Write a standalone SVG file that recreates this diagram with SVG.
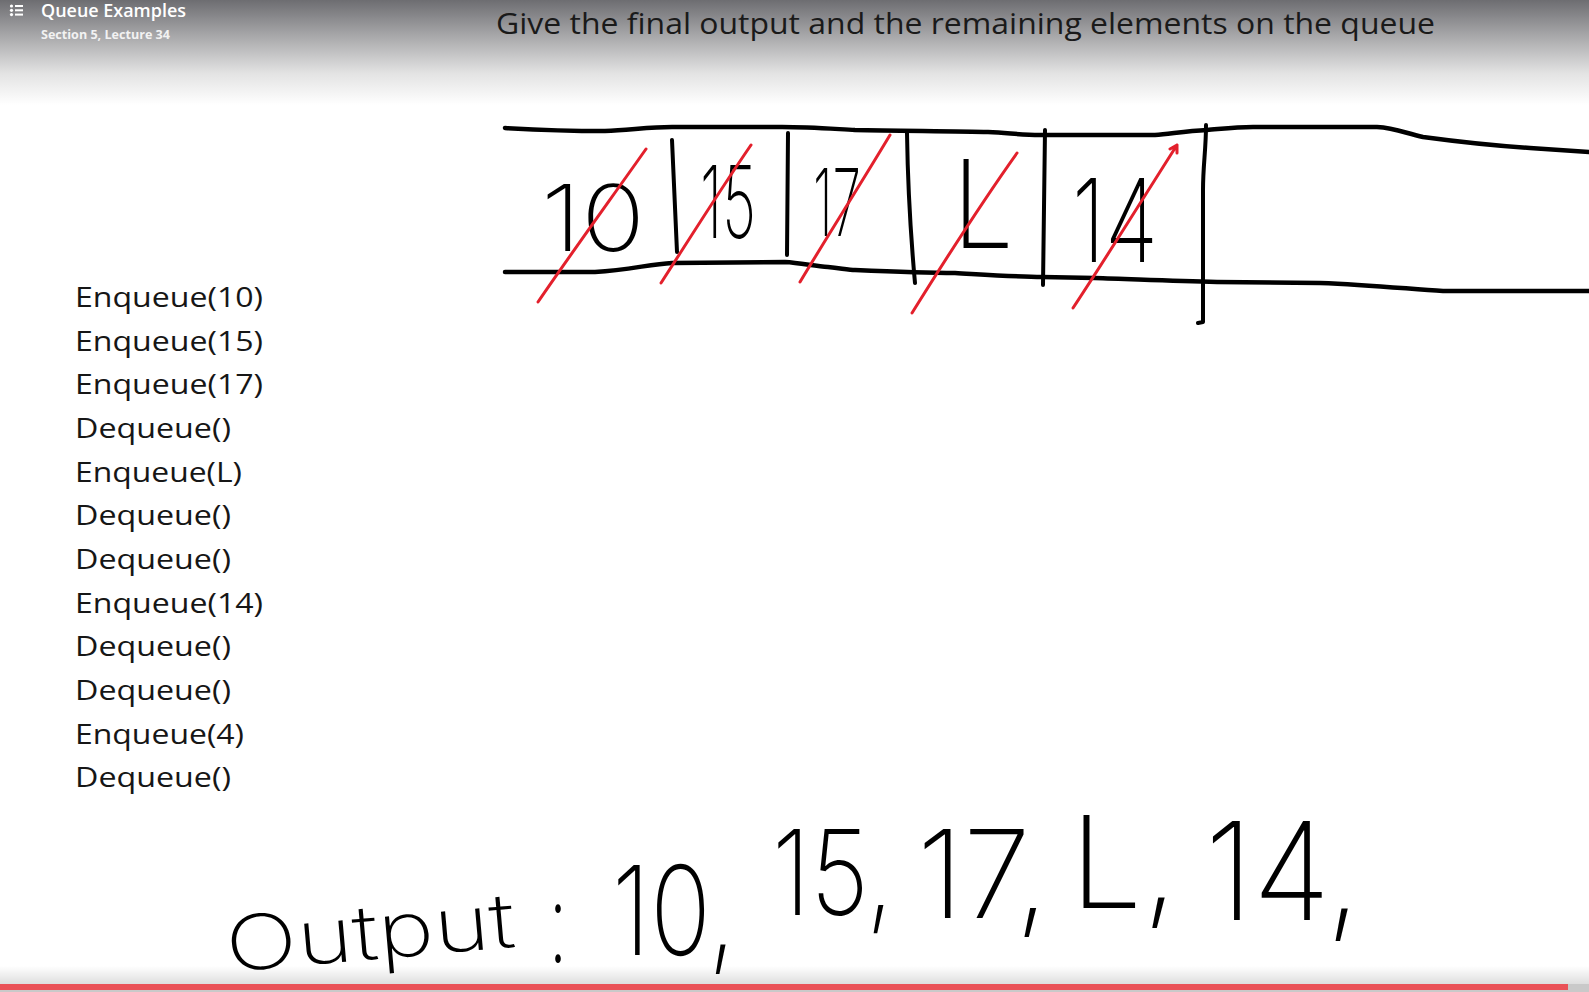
<svg xmlns="http://www.w3.org/2000/svg" width="1589" height="992" viewBox="0 0 1589 992">
  <defs>
    <linearGradient id="hdr" x1="0" y1="0" x2="0" y2="1">
      <stop offset="0" stop-color="#6d6d71"/>
      <stop offset="0.35" stop-color="#a9a9ab"/>
      <stop offset="0.7" stop-color="#e3e3e3"/>
      <stop offset="1" stop-color="#ffffff"/>
    </linearGradient>
    <linearGradient id="ftr" x1="0" y1="0" x2="0" y2="1">
      <stop offset="0" stop-color="#000000" stop-opacity="0"/>
      <stop offset="1" stop-color="#000000" stop-opacity="0.13"/>
    </linearGradient>
    <style>
      .hdr1{font-family:"Open Sans","Noto Sans","Liberation Sans",sans-serif;font-size:18.6px;font-weight:600;fill:#ffffff}
      .hdr2{font-family:"Open Sans","Noto Sans","Liberation Sans",sans-serif;font-size:13px;font-weight:700;fill:#f2f2f2}
      .title{font-family:"Open Sans","Noto Sans","Liberation Sans",sans-serif;font-size:29.5px;fill:#1a1a1a}
      .op{font-family:"Open Sans","Noto Sans","Liberation Sans",sans-serif;font-size:28px;fill:#161616}
      .ink{fill:none;stroke:#000;stroke-width:4.5;stroke-linecap:round;stroke-linejoin:round}
      .div{fill:none;stroke:#000;stroke-width:4;stroke-linecap:round;stroke-linejoin:round}
      .strike{fill:none;stroke:#e3202c;stroke-width:3;stroke-linecap:round;stroke-linejoin:round}
      .hand{font-family:Inter,Roboto,"Open Sans","Noto Sans",sans-serif;font-weight:200;fill:#000}
    </style>
  </defs>

  <rect x="0" y="0" width="1589" height="992" fill="#ffffff"/>

  <g id="header">
    <rect x="0" y="0" width="1589" height="105" fill="url(#hdr)"/>
    <g id="list-icon" fill="#ffffff">
      <circle cx="11.5" cy="6" r="1.6"/>
      <circle cx="11.5" cy="10.3" r="1.6"/>
      <circle cx="11.5" cy="14.6" r="1.6"/>
      <rect x="15" y="5" width="8" height="2"/>
      <rect x="15" y="9.3" width="8" height="2"/>
      <rect x="15" y="13.6" width="8" height="2"/>
    </g>
    <text class="hdr1" x="41" y="17.3" textLength="145" lengthAdjust="spacingAndGlyphs">Queue Examples</text>
    <text class="hdr2" x="41" y="39.3" textLength="129" lengthAdjust="spacingAndGlyphs">Section 5, Lecture 34</text>
  </g>

  <g id="title">
    <text class="title" x="496" y="34.3" textLength="939" lengthAdjust="spacingAndGlyphs">Give the final output and the remaining elements on the queue</text>
  </g>

  <g id="operations">
    <text class="op" x="75" y="307" textLength="188" lengthAdjust="spacingAndGlyphs">Enqueue(10)</text>
    <text class="op" x="75" y="350.7" textLength="188" lengthAdjust="spacingAndGlyphs">Enqueue(15)</text>
    <text class="op" x="75" y="394.3" textLength="188" lengthAdjust="spacingAndGlyphs">Enqueue(17)</text>
    <text class="op" x="75" y="438" textLength="156" lengthAdjust="spacingAndGlyphs">Dequeue()</text>
    <text class="op" x="75" y="481.7" textLength="167" lengthAdjust="spacingAndGlyphs">Enqueue(L)</text>
    <text class="op" x="75" y="525.4" textLength="156" lengthAdjust="spacingAndGlyphs">Dequeue()</text>
    <text class="op" x="75" y="569" textLength="156" lengthAdjust="spacingAndGlyphs">Dequeue()</text>
    <text class="op" x="75" y="612.7" textLength="188" lengthAdjust="spacingAndGlyphs">Enqueue(14)</text>
    <text class="op" x="75" y="656.4" textLength="156" lengthAdjust="spacingAndGlyphs">Dequeue()</text>
    <text class="op" x="75" y="700" textLength="156" lengthAdjust="spacingAndGlyphs">Dequeue()</text>
    <text class="op" x="75" y="743.7" textLength="169" lengthAdjust="spacingAndGlyphs">Enqueue(4)</text>
    <text class="op" x="75" y="787.4" textLength="156" lengthAdjust="spacingAndGlyphs">Dequeue()</text>
  </g>

  <g id="queue">
    <path class="ink" d="M505,128 C540,130 580,131 605,131 C630,130 650,127 672,127 L782,127 C810,127 835,129 855,130 C900,131 960,131 988,132 C1010,133 1020,135 1040,135 L1155,135 C1170,134 1185,131 1207,130 C1220,129 1235,127 1253,127 L1377,127 C1395,128 1405,133 1423,137 C1460,142 1500,146 1530,148 C1560,150 1575,151 1589,152"/>
    <path class="ink" d="M505,272 L595,272 C630,270 650,264 672,263 L785,262 C800,263 815,266 828,267 C845,269 850,270 855,270 C900,272 930,273 955,273 C990,275 1020,277 1042,277 L1095,278 C1130,279 1170,281 1217,282 L1320,283 C1370,285 1410,289 1443,291 L1589,291"/>
    <path class="div" d="M672,140 L677,252"/>
    <path class="div" d="M788,133 L787,255"/>
    <path class="div" d="M907,133 C908,200 912,250 915,283"/>
    <path class="div" d="M1045,130 L1043,285"/>
    <path class="div" d="M1206,125 C1206,150 1203,165 1203,190 L1203,322 L1198,323"/>

    <g id="cell-10"><text class="hand" x="593" y="251" font-size="92" text-anchor="middle" textLength="104" lengthAdjust="spacingAndGlyphs">10</text></g>
    <g id="cell-15"><text class="hand" x="728" y="238" font-size="100" text-anchor="middle" textLength="56" lengthAdjust="spacingAndGlyphs">15</text></g>
    <g id="cell-17"><text class="hand" x="837" y="236" font-size="94" text-anchor="middle" textLength="48" lengthAdjust="spacingAndGlyphs">17</text></g>
    <g id="cell-L"><text class="hand" x="983" y="248" font-size="122" text-anchor="middle" textLength="62" lengthAdjust="spacingAndGlyphs">L</text></g>
    <g id="cell-14"><text class="hand" x="1115" y="262" font-size="116" text-anchor="middle" textLength="86" lengthAdjust="spacingAndGlyphs">14</text></g>

    <path class="strike" d="M538,302 C570,255 610,200 646,149"/>
    <path class="strike" d="M661,283 C690,238 720,190 751,145"/>
    <path class="strike" d="M800,282 C830,232 860,185 890,135"/>
    <path class="strike" d="M912,313 C945,260 980,205 1017,153"/>
    <path class="strike" d="M1073,308 C1108,255 1142,200 1177,145 M1170,149 L1177,145 L1177,153"/>
  </g>

  <g id="output">
    <text class="hand" x="228" y="972" font-size="76" textLength="290" lengthAdjust="spacingAndGlyphs" transform="rotate(-5 228 972)">Output</text>
    <text class="hand" x="548" y="962" font-size="112" textLength="20" lengthAdjust="spacingAndGlyphs">:</text>
    <text class="hand" x="612" y="955" font-size="124" textLength="124" lengthAdjust="spacingAndGlyphs">10,</text>
    <text class="hand" x="772" y="915" font-size="118" textLength="122" lengthAdjust="spacingAndGlyphs">15,</text>
    <text class="hand" x="917" y="918" font-size="122" textLength="132" lengthAdjust="spacingAndGlyphs">17,</text>
    <text class="hand" x="1070" y="908" font-size="128" textLength="108" lengthAdjust="spacingAndGlyphs">L,</text>
    <text class="hand" x="1205" y="920" font-size="136" textLength="156" lengthAdjust="spacingAndGlyphs">14,</text>
  </g>

  <g id="player-bar">
    <rect x="0" y="966" width="1589" height="18" fill="url(#ftr)"/>
    <rect x="0" y="984" width="1589" height="8" fill="#c9c9c9"/>
    <rect x="0" y="984" width="1568" height="6" fill="#ea5157"/>
  </g>
</svg>
